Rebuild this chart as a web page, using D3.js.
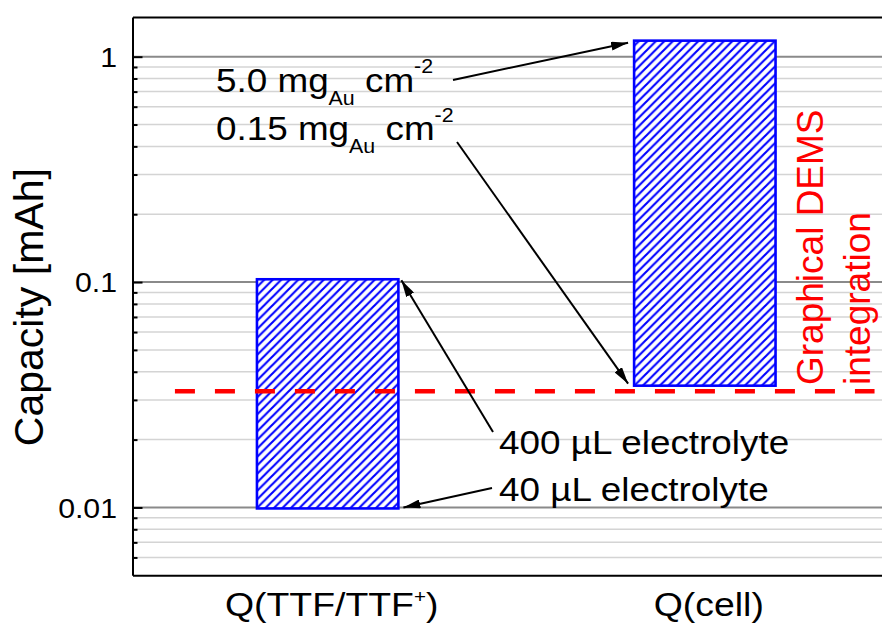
<!DOCTYPE html>
<html>
<head>
<meta charset="utf-8">
<script src="https://cdn.jsdelivr.net/npm/d3@7"></script>
<style>
  html, body { margin: 0; padding: 0; background: #fff; }
  svg { display: block; font-family: "Liberation Sans", Arial, sans-serif; }
  text { white-space: pre; }
</style>
</head>
<body>
<svg id="chart" width="882" height="623"></svg>
<script>
// ---- data ----
const categories = ["Q(TTF/TTF^{+})", "Q(cell)"];
const barLow = [0.0099, 0.0347];      // mAh, lower end of each floating bar
const barHigh = [0.1029, 1.178];      // mAh, upper end of each floating bar
const demsLevel = 0.0328;             // mAh, graphical DEMS integration level
const majorTicks = [0.01, 0.1, 1];
const majorTickLabels = ["0.01", "0.1", "1"];
const loadingLabels = ["5.0 mg_{Au} cm^{-2}", "0.15 mg_{Au} cm^{-2}"];
const volumeLabels = ["400 µL electrolyte", "40 µL electrolyte"];
const demsLabel = ["Graphical DEMS", "integration"];
const yTitle = "Capacity [mAh]";

// ---- layout ----
const SX = 1.1; // horizontal glyph stretch for upright text
const plot = { left: 132.5, top: 17, right: 900, bottom: 575.3 };
const svg = d3.select("#chart");

const x = d3.scaleBand().domain(categories)
  .range([plot.left, plot.right]).paddingInner(0.625).paddingOuter(0.33);
const y = d3.scaleLog().domain([0.005, 1.5]).range([plot.bottom, plot.top]);
const bw = x.bandwidth();
const xi = d3.scaleLinear().domain([0, 1])
  .range([x(categories[0]) + bw / 2, x(categories[1]) + bw / 2]);

const isMajor = v => majorTicks.some(m => Math.abs(m - v) / m < 1e-6);
const minorTicks = y.ticks().filter(v => !isMajor(v) && v > 0.005 * 1.001 && v < 1.5);

// ---- defs: hatch + arrowhead ----
const defs = svg.append("defs");
const h = 8.5;
const pat = defs.append("pattern").attr("id", "hatch")
  .attr("patternUnits", "userSpaceOnUse").attr("width", h).attr("height", h);
pat.append("rect").attr("width", h).attr("height", h).attr("fill", "#fff");
pat.append("path")
  .attr("d", `M0,${h} L${h},0 M${-h / 4},${h / 4} L${h / 4},${-h / 4} M${3 * h / 4},${5 * h / 4} L${5 * h / 4},${3 * h / 4}`)
  .attr("stroke", "#0000ff").attr("stroke-width", 2.1);

defs.append("marker").attr("id", "head")
  .attr("viewBox", "0 0 17 9").attr("refX", 17).attr("refY", 4.5)
  .attr("markerWidth", 17).attr("markerHeight", 9)
  .attr("markerUnits", "userSpaceOnUse").attr("orient", "auto")
  .append("path").attr("d", "M0,0 L17,4.5 L0,9 Z").attr("fill", "#000");

// ---- grid ----
const grid = svg.append("g");
grid.selectAll("line.minor").data(minorTicks).join("line").attr("class", "minor")
  .attr("x1", plot.left).attr("x2", plot.right)
  .attr("y1", d => y(d)).attr("y2", d => y(d))
  .attr("stroke", "#d4d4d4").attr("stroke-width", 1.5);
grid.selectAll("line.major").data(majorTicks).join("line").attr("class", "major")
  .attr("x1", plot.left).attr("x2", plot.right)
  .attr("y1", d => y(d)).attr("y2", d => y(d))
  .attr("stroke", "#8a8a8a").attr("stroke-width", 2);

// ---- bars ----
svg.append("g").selectAll("rect")
  .data(categories.map((c, i) => ({ c, lo: barLow[i], hi: barHigh[i] })))
  .join("rect")
  .attr("x", d => x(d.c)).attr("width", bw)
  .attr("y", d => y(d.hi)).attr("height", d => y(d.lo) - y(d.hi))
  .attr("fill", "url(#hatch)").attr("stroke", "#0000ff").attr("stroke-width", 2.6);

// ---- DEMS level ----
svg.append("line")
  .attr("x1", xi(-0.405)).attr("x2", xi(1.45))
  .attr("y1", y(demsLevel)).attr("y2", y(demsLevel))
  .attr("stroke", "#ff0000").attr("stroke-width", 4.5).attr("stroke-dasharray", "20,20");

// ---- axes / frame ----
const gyMinor = svg.append("g").attr("transform", `translate(${plot.left},0)`)
  .call(d3.axisLeft(y).tickValues(minorTicks).tickFormat("").tickSize(-5).tickSizeOuter(0));
gyMinor.select(".domain").remove();
gyMinor.selectAll(".tick line").attr("stroke", "#000").attr("stroke-width", 2);

const gy = svg.append("g").attr("transform", `translate(${plot.left},0)`)
  .call(d3.axisLeft(y).tickValues(majorTicks).tickFormat((d, i) => majorTickLabels[i])
    .tickSize(-10).tickSizeOuter(0).tickPadding(15.5));
gy.attr("font-size", null).attr("font-family", null);
gy.select(".domain").attr("stroke", "#000").attr("stroke-width", 2);
gy.selectAll(".tick line").attr("stroke", "#000").attr("stroke-width", 2);
gy.selectAll(".tick text")
  .attr("x", 0).attr("dy", "0.36em").attr("fill", "#000")
  .attr("transform", `translate(-15.5,0) scale(${SX},1)`)
  .style("font-size", "27.5px");

const gTop = svg.append("g").attr("transform", `translate(0,${plot.top})`)
  .call(d3.axisTop(x).tickSize(0).tickSizeOuter(0).tickFormat(""));
gTop.select(".domain").attr("stroke", "#000").attr("stroke-width", 2);

const gx = svg.append("g").attr("transform", `translate(0,${plot.bottom})`)
  .call(d3.axisBottom(x).tickSize(0).tickSizeOuter(0).tickFormat(""));
gx.select(".domain").attr("stroke", "#000").attr("stroke-width", 2);

// ---- rich text helper (^{...} superscript, _{...} subscript) ----
function richText(sel, str, size, o = {}) {
  const sc = o.scale || 0.58, sub = o.sub || 0.4, sup = o.sup || 0.55;
  const parts = str.split(/(\^\{[^}]*\}|_\{[^}]*\})/).filter(s => s.length);
  let off = 0;
  parts.forEach(p => {
    let t, target, fs;
    if (p.startsWith("^{")) { t = p.slice(2, -1); target = -sup * size; fs = size * sc; }
    else if (p.startsWith("_{")) { t = p.slice(2, -1); target = sub * size; fs = size * sc; }
    else { t = p; target = 0; fs = size; }
    sel.append("tspan").attr("dy", target - off).style("font-size", fs + "px").text(t);
    off = target;
  });
  return sel;
}
function placeText(px, py, anchor) {
  return svg.append("text")
    .attr("transform", `translate(${px},${py}) scale(${SX},1)`)
    .attr("text-anchor", anchor).attr("fill", "#000");
}

// ---- category labels ----
categories.forEach(c => {
  richText(placeText(x(c) + bw / 2 + 4, 616, "middle"), c, 34, { scale: 0.55, sup: 0.38 });
});

// ---- y title ----
svg.append("text")
  .attr("transform", `translate(43,${(plot.top + plot.bottom) / 2 + 11}) rotate(-90)`)
  .attr("text-anchor", "middle").attr("fill", "#000")
  .style("font-size", "41px").text(yTitle);

// ---- DEMS label ----
svg.append("text").attr("transform", "translate(823,385) rotate(-90)")
  .attr("fill", "#ff0000").style("font-size", "37px").text(demsLabel[0]);
svg.append("text").attr("transform", "translate(870,385) rotate(-90)")
  .attr("fill", "#ff0000").style("font-size", "37px").text(demsLabel[1]);

// ---- annotations ----
richText(placeText(216, 91.5, "start"), loadingLabels[0], 33.5);
richText(placeText(216, 140, "start"), loadingLabels[1], 33.5);
richText(placeText(499, 454, "start"), volumeLabels[0], 33.5);
richText(placeText(499, 501, "start"), volumeLabels[1], 33.5);

const arrows = [
  { from: [453, 80], to: [x(categories[1]) - 6, y(barHigh[1]) + 2] },
  { from: [457, 142], to: [x(categories[1]) - 6, y(barLow[1]) - 2] },
  { from: [493, 432], to: [x(categories[0]) + bw + 3, y(barHigh[0]) + 1] },
  { from: [492, 488], to: [x(categories[0]) + bw + 5, y(barLow[0]) - 1] }
];
svg.append("g").selectAll("line").data(arrows).join("line")
  .attr("x1", d => d.from[0]).attr("y1", d => d.from[1])
  .attr("x2", d => d.to[0]).attr("y2", d => d.to[1])
  .attr("stroke", "#000").attr("stroke-width", 2)
  .attr("marker-end", "url(#head)");
</script>
</body>
</html>
